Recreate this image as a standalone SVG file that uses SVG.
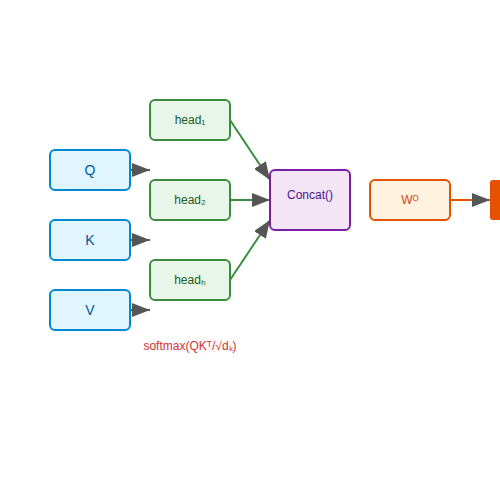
<svg xmlns="http://www.w3.org/2000/svg" width="500" height="500" viewBox="0 0 500 500">
<defs>
<marker id="arr" markerUnits="userSpaceOnUse" markerWidth="18" markerHeight="14" refX="18" refY="7" orient="auto">
<path d="M0,0 L18,7 L0,14 z" fill="#555"/>
</marker>
<style>
text{font-family:"Liberation Sans",Arial,sans-serif;text-anchor:middle;dominant-baseline:central}
.in rect{fill:#e1f5fe;stroke:#0288d1;stroke-width:2}
.in text{fill:#01579b;font-size:14px}
.hd rect{fill:#e8f5e9;stroke:#388e3c;stroke-width:2}
.hd text{fill:#1b5e20;font-size:12px}
</style>
</defs>
<rect width="500" height="500" fill="#fff"/>
<g id="connectors" fill="none" stroke-width="2">
<line x1="130" y1="170" x2="150" y2="170" stroke="#555" marker-end="url(#arr)"/>
<line x1="130" y1="240" x2="150" y2="240" stroke="#555" marker-end="url(#arr)"/>
<line x1="130" y1="310" x2="150" y2="310" stroke="#555" marker-end="url(#arr)"/>
<line x1="230" y1="120" x2="270" y2="180" stroke="#388e3c" marker-end="url(#arr)"/>
<line x1="230" y1="200" x2="270" y2="200" stroke="#388e3c" marker-end="url(#arr)"/>
<line x1="230" y1="280" x2="270" y2="220" stroke="#388e3c" marker-end="url(#arr)"/>
<line x1="450" y1="200" x2="490" y2="200" stroke="#e65100" marker-end="url(#arr)"/>
</g>
<g id="Q" class="in"><rect x="50" y="150" width="80" height="40" rx="5"/><text x="90" y="170">Q</text></g>
<g id="K" class="in"><rect x="50" y="220" width="80" height="40" rx="5"/><text x="90" y="240">K</text></g>
<g id="V" class="in"><rect x="50" y="290" width="80" height="40" rx="5"/><text x="90" y="310">V</text></g>
<g id="head1" class="hd"><rect x="150" y="100" width="80" height="40" rx="5"/><text x="190" y="120">head₁</text></g>
<g id="head2" class="hd"><rect x="150" y="180" width="80" height="40" rx="5"/><text x="190" y="200">head₂</text></g>
<g id="head3" class="hd"><rect x="150" y="260" width="80" height="40" rx="5"/><text x="190" y="280">headₕ</text></g>
<g id="concat"><rect x="270" y="170" width="80" height="60" rx="5" fill="#f3e5f5" stroke="#7b1fa2" stroke-width="2"/><text x="310" y="195" fill="#4a148c" font-size="12">Concat()</text></g>
<g id="wo"><rect x="370" y="180" width="80" height="40" rx="5" fill="#fff3e0" stroke="#e65100" stroke-width="2"/><text x="410" y="200" fill="#d84315" font-size="12">Wᴼ</text></g>
<g id="output"><rect x="490" y="180" width="20" height="40" rx="3" fill="#e65100"/></g>
<text x="190" y="346" fill="#d32f2f" font-size="12">softmax(QKᵀ/√dₖ)</text>
</svg>
